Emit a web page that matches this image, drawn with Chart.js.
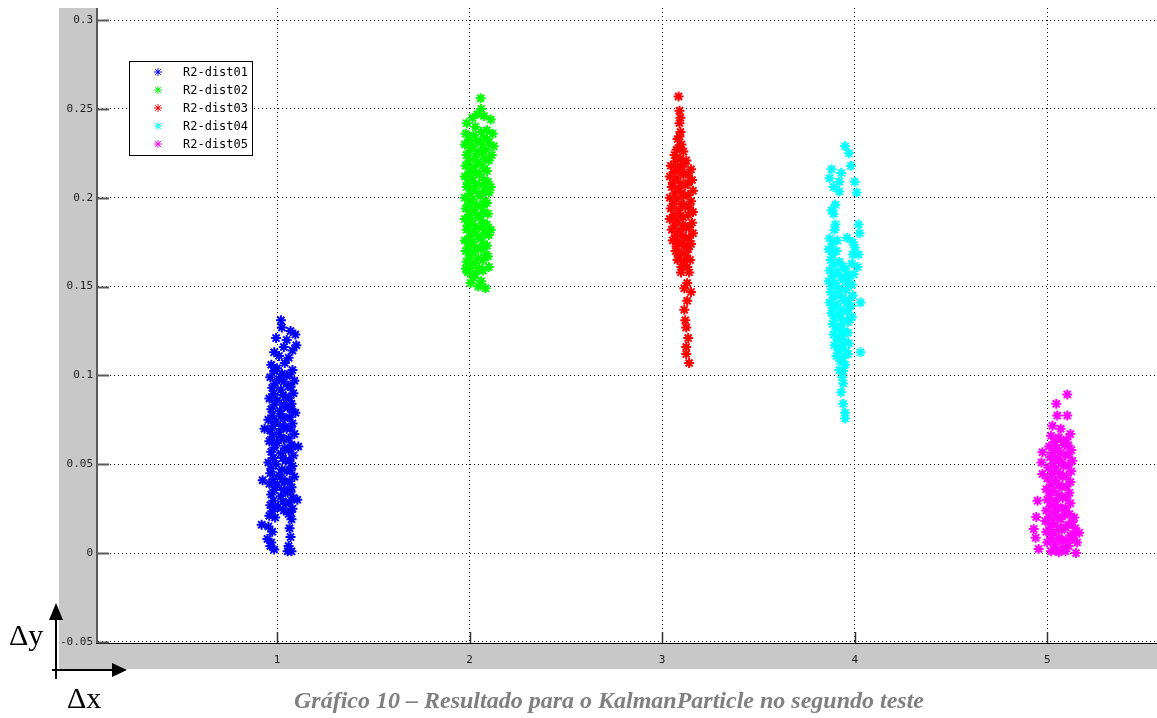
<!DOCTYPE html>
<html>
<head>
<meta charset="utf-8">
<script src="https://cdn.jsdelivr.net/npm/chart.js"></script>
<style>
  body { margin: 0; background: #fff; }
  #wrap { position: relative; width: 1157px; height: 718px; overflow: hidden; }
  #grafico { position: absolute; left: 0; top: 0; }
  .delta { position: absolute; font-family: "Liberation Serif", serif; font-size: 30px; line-height: 30px; color: #000; }
  #legenda { position: absolute; left: 0; width: 1218px; top: 688px; text-align: center; font-family: "Liberation Serif", serif; font-size: 24px; line-height: 24px; font-weight: bold; font-style: italic; color: #808080; white-space: nowrap; }
  svg { position: absolute; left: 0; top: 0; }
</style>
</head>
<body>
<div id="wrap">
  <canvas id="grafico" width="1157" height="718"></canvas>
  <svg width="1157" height="718">
    <line x1="56" y1="618" x2="56" y2="679" stroke="#000" stroke-width="2"/>
    <polygon points="56,603 49,620 63,620" fill="#000"/>
    <line x1="52" y1="670" x2="113" y2="670" stroke="#000" stroke-width="2"/>
    <polygon points="127,670 112,663 112,677" fill="#000"/>
  </svg>
  <div class="delta" style="left:9px; top:620px;">Δy</div>
  <div class="delta" style="left:67px; top:683px;">Δx</div>
  <div id="legenda">Gráfico 10 – Resultado para o KalmanParticle no segundo teste</div>
</div>
<script>
// Ticks dos eixos
const xTicks = [1, 2, 3, 4, 5];
const yTicks = [-0.05, 0, 0.05, 0.1, 0.15, 0.2, 0.25, 0.3];
const yTickLabels = ['-0.05', '0', '0.05', '0.1', '0.15', '0.2', '0.25', '0.3'];

// Nomes e cores das séries
const seriesNames = ['R2-dist01', 'R2-dist02', 'R2-dist03', 'R2-dist04', 'R2-dist05'];
const seriesColors = ['#0000ff', '#00ff00', '#ff0000', '#00ffff', '#ff00ff'];

// Pontos [x, y]
const dist01 = [
    [1.02,0.131],[1.025,0.127],[1.07,0.125],[1.095,0.123],[0.995,0.121],[1.05,0.120],[1.10,0.117],[1.035,0.116],
    [0.985,0.113],[1.08,0.114],[1.06,0.110],[1.01,0.111],
    [0.97,0.106],[1.00,0.104],[1.04,0.107],[1.08,0.103],
    [0.965,0.099],[1.01,0.098],[1.05,0.100],[1.09,0.097],
    [0.975,0.093],[1.02,0.092],[1.06,0.094],[1.085,0.090],
    [0.96,0.087],[1.00,0.086],[1.045,0.088],[1.075,0.084],
    [0.97,0.081],[1.015,0.080],[1.055,0.082],[1.095,0.079],
    [0.955,0.075],[0.995,0.074],[1.04,0.076],[1.08,0.073],
    [0.965,0.069],[1.01,0.068],[1.05,0.070],[1.09,0.067],
    [0.96,0.063],[1.00,0.062],[1.035,0.064],[1.075,0.061],
    [0.97,0.057],[1.02,0.056],[1.06,0.058],[1.085,0.055],
    [0.955,0.051],[0.995,0.050],[1.045,0.052],[1.08,0.049],
    [0.965,0.045],[1.01,0.044],[1.05,0.046],[1.09,0.043],
    [0.96,0.039],[1.00,0.038],[1.04,0.040],[1.075,0.037],
    [0.97,0.033],[1.02,0.032],[1.055,0.034],[1.085,0.031],
    [0.965,0.027],[1.005,0.026],[1.045,0.028],[1.08,0.025],
    [0.96,0.021],[0.99,0.020],[1.06,0.022],[1.075,0.019],
    [0.955,0.015],[0.975,0.012],[0.95,0.008],[0.965,0.004],[0.985,0.002],[0.97,0.006],
    [1.065,0.014],[1.07,0.009],[1.06,0.004],[1.075,0.001],[1.055,0.001],
    [0.925,0.041],[0.92,0.016],[1.11,0.060],[1.105,0.030],[0.935,0.070],
    [0.985,0.1025],[1.025,0.101],[1.065,0.1005],
    [0.99,0.0955],[1.035,0.0965],[1.07,0.0935],
    [0.98,0.0895],[1.03,0.089],[1.065,0.0875],
    [0.985,0.0835],[1.035,0.0835],[1.075,0.081],
    [0.975,0.0775],[1.02,0.077],[1.065,0.0765],
    [0.98,0.0715],[1.03,0.0715],[1.07,0.0705],
    [0.975,0.0655],[1.02,0.065],[1.06,0.0645],
    [0.985,0.0595],[1.04,0.059],[1.07,0.0585],
    [0.98,0.0535],[1.03,0.0535],[1.065,0.052],
    [0.97,0.0475],[1.025,0.047],[1.07,0.0465],
    [0.98,0.0415],[1.025,0.0415],[1.065,0.0405],
    [0.985,0.0355],[1.035,0.0355],[1.07,0.0345],
    [0.98,0.0295],[1.03,0.029],[1.065,0.0285],
    [0.975,0.0235],[1.035,0.024],[1.07,0.023]
];
const dist02 = [
    [2.057,0.256],[2.06,0.250],[2.04,0.247],[2.015,0.245],[2.11,0.244],[2.075,0.246],[2.12,0.236],[1.985,0.242],
    [2.03,0.240],[2.09,0.238],[2.10,0.231],[2.125,0.229],[2.115,0.224],
    [1.98,0.236],[2.02,0.235],[2.06,0.237],[2.09,0.233],
    [1.975,0.230],[2.015,0.229],[2.055,0.231],[2.085,0.227],
    [1.985,0.224],[2.03,0.223],[2.065,0.225],[2.10,0.221],
    [1.98,0.218],[2.02,0.217],[2.055,0.219],[2.09,0.215],
    [1.975,0.212],[2.01,0.211],[2.05,0.213],[2.095,0.209],
    [1.985,0.206],[2.025,0.205],[2.065,0.207],[2.10,0.203],
    [1.975,0.200],[2.015,0.199],[2.055,0.201],[2.09,0.197],
    [1.98,0.194],[2.02,0.193],[2.06,0.195],[2.095,0.191],
    [1.975,0.188],[2.01,0.187],[2.05,0.189],[2.09,0.185],
    [1.985,0.182],[2.025,0.181],[2.065,0.183],[2.10,0.179],
    [1.975,0.176],[2.015,0.175],[2.055,0.177],[2.09,0.173],
    [1.98,0.170],[2.02,0.169],[2.06,0.171],[2.095,0.167],
    [1.985,0.164],[2.025,0.163],[2.07,0.165],[2.10,0.161],
    [1.99,0.158],[2.03,0.157],[2.07,0.159],[2.005,0.152],[2.02,0.155],[2.06,0.153],[2.083,0.149],[1.98,0.160],[2.045,0.150],
    [1.995,0.2325],[2.04,0.232],[2.075,0.234],
    [2.00,0.2265],[2.04,0.226],[2.075,0.228],
    [1.995,0.2205],[2.04,0.220],[2.08,0.222],
    [2.00,0.2145],[2.035,0.214],[2.075,0.2165],
    [1.99,0.2085],[2.03,0.208],[2.075,0.210],[2.11,0.206],
    [2.005,0.2025],[2.045,0.2025],[2.08,0.204],
    [1.995,0.1965],[2.035,0.196],[2.08,0.198],
    [2.00,0.1905],[2.04,0.190],[2.075,0.192],
    [1.99,0.1845],[2.03,0.184],[2.07,0.186],[2.11,0.182],
    [2.005,0.1785],[2.045,0.178],[2.08,0.180],
    [1.995,0.1725],[2.035,0.172],[2.075,0.174],
    [2.00,0.1665],[2.045,0.166],[2.085,0.168],
    [2.005,0.1605],[2.05,0.1605]
];
const dist03 = [
    [3.085,0.257],[3.09,0.249],[3.095,0.245],[3.09,0.242],[3.095,0.237],[3.08,0.233],[3.10,0.230],[3.075,0.227],
    [3.11,0.226],[3.065,0.224],[3.095,0.222],[3.125,0.221],
    [3.045,0.218],[3.08,0.217],[3.115,0.219],[3.15,0.216],
    [3.04,0.212],[3.075,0.211],[3.11,0.213],[3.155,0.210],
    [3.05,0.206],[3.085,0.205],[3.12,0.207],[3.16,0.204],
    [3.04,0.200],[3.075,0.199],[3.11,0.201],[3.15,0.198],
    [3.045,0.194],[3.085,0.193],[3.12,0.195],[3.16,0.192],
    [3.04,0.188],[3.075,0.187],[3.11,0.189],[3.155,0.186],
    [3.05,0.182],[3.09,0.181],[3.125,0.183],[3.16,0.180],
    [3.055,0.176],[3.09,0.175],[3.125,0.177],[3.15,0.174],
    [3.07,0.170],[3.10,0.169],[3.135,0.171],
    [3.08,0.165],[3.115,0.164],[3.145,0.165],
    [3.098,0.158],[3.14,0.158],[3.13,0.152],[3.115,0.149],[3.15,0.147],[3.13,0.142],[3.115,0.137],
    [3.125,0.127],[3.135,0.121],[3.125,0.116],[3.125,0.112],[3.14,0.107],[3.12,0.131],
    [3.06,0.2145],[3.095,0.215],[3.135,0.2135],
    [3.055,0.2085],[3.095,0.208],[3.135,0.2085],
    [3.065,0.2025],[3.10,0.2025],[3.135,0.2015],
    [3.06,0.1965],[3.10,0.1965],[3.14,0.1955],
    [3.06,0.1905],[3.095,0.190],[3.135,0.1905],
    [3.065,0.1845],[3.105,0.1845],[3.14,0.1835],
    [3.07,0.1785],[3.105,0.1785],[3.14,0.1775],
    [3.075,0.1725],[3.115,0.173],[3.085,0.1675],[3.125,0.1675],[3.10,0.161],[3.13,0.161],
    [3.07,0.2205],[3.10,0.2175],[3.085,0.228],[3.09,0.2345]
];
const dist04 = [
    [3.95,0.229],[3.97,0.225],[3.98,0.218],[3.88,0.216],[3.93,0.214],[3.87,0.211],[3.92,0.209],[4.00,0.209],
    [3.89,0.206],[3.92,0.2035],[4.01,0.203],[3.90,0.196],[3.88,0.193],[3.89,0.191],[4.02,0.185],[3.90,0.185],
    [3.895,0.182],[4.025,0.180],
    [3.87,0.177],[3.91,0.176],[3.99,0.175],
    [3.865,0.171],[3.905,0.170],[4.00,0.172],[4.02,0.168],
    [3.875,0.165],[3.92,0.164],[3.985,0.163],[4.015,0.161],
    [3.87,0.159],[3.91,0.158],[3.95,0.160],[3.995,0.157],
    [3.865,0.153],[3.90,0.152],[3.94,0.154],[3.985,0.151],
    [3.875,0.147],[3.915,0.146],[3.955,0.148],[3.99,0.145],
    [3.87,0.141],[3.905,0.140],[3.945,0.142],[3.98,0.139],
    [3.88,0.135],[3.92,0.134],[3.96,0.136],[3.985,0.133],
    [3.885,0.129],[3.925,0.128],[3.965,0.130],
    [3.89,0.123],[3.93,0.122],[3.965,0.124],
    [3.895,0.117],[3.935,0.116],[3.97,0.118],
    [3.905,0.111],[3.94,0.110],[3.965,0.112],
    [3.92,0.103],[3.95,0.106],[3.94,0.0955],[3.93,0.0905],[3.94,0.084],[3.95,0.079],[3.95,0.0757],[3.935,0.099],
    [4.03,0.141],[4.03,0.113],
    [3.885,0.174],[3.96,0.1775],[3.885,0.168],[3.99,0.168],
    [3.89,0.162],[3.935,0.1615],[3.965,0.157],
    [3.885,0.156],[3.93,0.1555],[3.97,0.1545],
    [3.88,0.150],[3.92,0.149],[3.965,0.151],
    [3.89,0.144],[3.935,0.1435],[3.97,0.1425],
    [3.885,0.138],[3.925,0.137],[3.965,0.139],
    [3.895,0.132],[3.94,0.131],[3.975,0.1315],
    [3.905,0.126],[3.945,0.125],
    [3.91,0.120],[3.95,0.119],
    [3.915,0.114],[3.955,0.1135],
    [3.925,0.108],[3.94,0.1025]
];
const dist05 = [
    [5.104,0.0893],[5.047,0.084],[5.052,0.0774],[5.104,0.0774],[5.027,0.0717],[5.07,0.070],
    [5.02,0.066],[5.06,0.065],[5.10,0.064],[5.12,0.067],
    [5.01,0.060],[5.05,0.059],[5.09,0.061],[5.125,0.058],
    [5.015,0.054],[5.055,0.053],[5.095,0.055],[5.13,0.052],
    [5.005,0.048],[5.045,0.047],[5.085,0.049],[5.125,0.046],
    [5.00,0.042],[5.04,0.041],[5.08,0.043],[5.12,0.040],
    [4.995,0.036],[5.035,0.035],[5.075,0.037],[5.115,0.034],
    [5.00,0.030],[5.04,0.029],[5.08,0.031],[5.12,0.028],
    [4.995,0.024],[5.035,0.023],[5.075,0.025],[5.115,0.022],[5.14,0.020],
    [4.99,0.018],[5.03,0.017],[5.07,0.019],[5.11,0.016],[5.145,0.014],
    [4.995,0.012],[5.035,0.011],[5.075,0.013],[5.12,0.010],
    [5.00,0.006],[5.04,0.005],[5.08,0.007],[5.11,0.004],
    [5.02,0.001],[5.06,0.0005],[5.095,0.001],
    [4.975,0.0567],[4.97,0.051],[4.975,0.0445],[4.95,0.0294],[4.943,0.0203],[4.93,0.0135],[4.94,0.0087],[4.955,0.0023],
    [5.166,0.0115],[5.149,0.0],[5.13,0.008],[5.155,0.006],
    [5.04,0.0625],[5.08,0.0625],[5.11,0.0605],
    [5.03,0.0565],[5.07,0.0565],[5.11,0.0555],
    [5.035,0.0505],[5.075,0.051],[5.11,0.0495],
    [5.025,0.0445],[5.065,0.0445],[5.10,0.0435],
    [5.02,0.0385],[5.06,0.0385],[5.10,0.0375],
    [5.015,0.0325],[5.06,0.0325],[5.10,0.0315],
    [5.02,0.0265],[5.055,0.026],[5.095,0.0255],
    [5.01,0.0205],[5.05,0.0205],[5.09,0.0215],[5.13,0.0175],
    [5.015,0.0145],[5.055,0.0145],[5.095,0.0145],
    [5.02,0.0085],[5.06,0.0085],[5.10,0.0075],[5.14,0.010],
    [5.04,0.002],[5.08,0.003]
];
const allSeries = [dist01, dist02, dist03, dist04, dist05];

const tickFont = { family: 'DejaVu Sans Mono', size: 11 };

// Fundo cinza estilo MATLAB, área branca, ticks internos e legenda
const estiloMatlab = {
    id: 'estiloMatlab',
    beforeDraw(chart) {
        const ctx = chart.ctx;
        const a = chart.chartArea;
        ctx.save();
        ctx.fillStyle = '#c8c8c8';
        ctx.fillRect(59, 8, 1157 - 59, 669 - 8);
        ctx.fillStyle = '#ffffff';
        ctx.fillRect(a.left, a.top, a.right - a.left, a.bottom - a.top);
        ctx.restore();
    },
    afterDraw(chart) {
        const ctx = chart.ctx;
        const a = chart.chartArea;
        const sx = chart.scales.x;
        const sy = chart.scales.y;
        ctx.save();
        // eixos
        ctx.strokeStyle = '#5a5a5a';
        ctx.lineWidth = 2;
        ctx.beginPath();
        ctx.moveTo(a.left - 1, a.top);
        ctx.lineTo(a.left - 1, a.bottom);
        ctx.stroke();
        ctx.strokeStyle = '#000';
        ctx.lineWidth = 1;
        ctx.beginPath();
        ctx.moveTo(a.left - 2, a.bottom + 0.5);
        ctx.lineTo(a.right, a.bottom + 0.5);
        ctx.stroke();
        // ticks internos
        ctx.strokeStyle = '#5a5a5a';
        ctx.lineWidth = 2;
        yTicks.forEach(v => {
            const py = Math.round(sy.getPixelForValue(v)) + 0.5;
            ctx.beginPath();
            ctx.moveTo(a.left, py);
            ctx.lineTo(a.left + 11, py);
            ctx.stroke();
        });
        ctx.strokeStyle = '#333';
        ctx.lineWidth = 1.5;
        xTicks.forEach(v => {
            const px = Math.round(sx.getPixelForValue(v)) + 0.5;
            ctx.beginPath();
            ctx.moveTo(px, a.bottom);
            ctx.lineTo(px, a.bottom - 11);
            ctx.stroke();
        });
        // legenda
        ctx.fillStyle = '#fff';
        ctx.fillRect(129, 61, 123, 94);
        ctx.strokeStyle = '#000';
        ctx.lineWidth = 1;
        ctx.strokeRect(129.5, 61.5, 123, 94);
        ctx.font = '12px "DejaVu Sans Mono"';
        ctx.textBaseline = 'middle';
        const ys = [72, 90, 108, 126, 144];
        seriesNames.forEach((nome, i) => {
            ctx.strokeStyle = seriesColors[i];
            Chart.helpers.drawPoint(ctx, { pointStyle: 'star', radius: 4, borderWidth: 1.5 }, 158, ys[i]);
            ctx.fillStyle = '#000';
            ctx.fillText(nome, 183, ys[i] + 1);
        });
        ctx.restore();
    }
};

// Remove o padding automático das escalas para a área do gráfico encostar nas bordas
function semPadding(scale) {
    scale.paddingTop = 0;
    scale.paddingBottom = 0;
    scale.paddingLeft = 0;
    scale.paddingRight = 0;
}

const datasets = allSeries.map((serie, i) => ({
    label: seriesNames[i],
    data: serie.map(p => ({ x: p[0], y: p[1] })),
    pointStyle: 'star',
    pointRadius: 5,
    borderWidth: 2,
    borderColor: seriesColors[i],
    backgroundColor: seriesColors[i]
}));

new Chart(document.getElementById('grafico').getContext('2d'), {
    type: 'scatter',
    data: { datasets: datasets },
    options: {
        responsive: false,
        maintainAspectRatio: false,
        animation: false,
        events: [],
        layout: { autoPadding: false, padding: { left: 59, top: 8, right: 0, bottom: 49 } },
        plugins: { legend: { display: false }, tooltip: { enabled: false } },
        scales: {
            x: {
                type: 'linear',
                min: 0.07,
                max: 5.57,
                afterBuildTicks: scale => { scale.ticks = xTicks.map(v => ({ value: v })); },
                afterFit: scale => { scale.height = 26; semPadding(scale); },
                grid: { color: '#000', lineWidth: 1, drawTicks: false },
                border: { display: false, dash: [1, 3] },
                ticks: { font: tickFont, color: '#222', padding: 11, maxRotation: 0, callback: v => String(v) }
            },
            y: {
                type: 'linear',
                min: -0.0506,
                max: 0.3068,
                afterBuildTicks: scale => { scale.ticks = yTicks.map(v => ({ value: v })); },
                afterFit: scale => { scale.width = 39; semPadding(scale); },
                grid: { color: '#000', lineWidth: 1, drawTicks: false },
                border: { display: false, dash: [1, 3] },
                ticks: { font: tickFont, color: '#222', padding: 5, callback: (v, i) => yTickLabels[i] }
            }
        }
    },
    plugins: [estiloMatlab]
});
</script>
</body>
</html>
